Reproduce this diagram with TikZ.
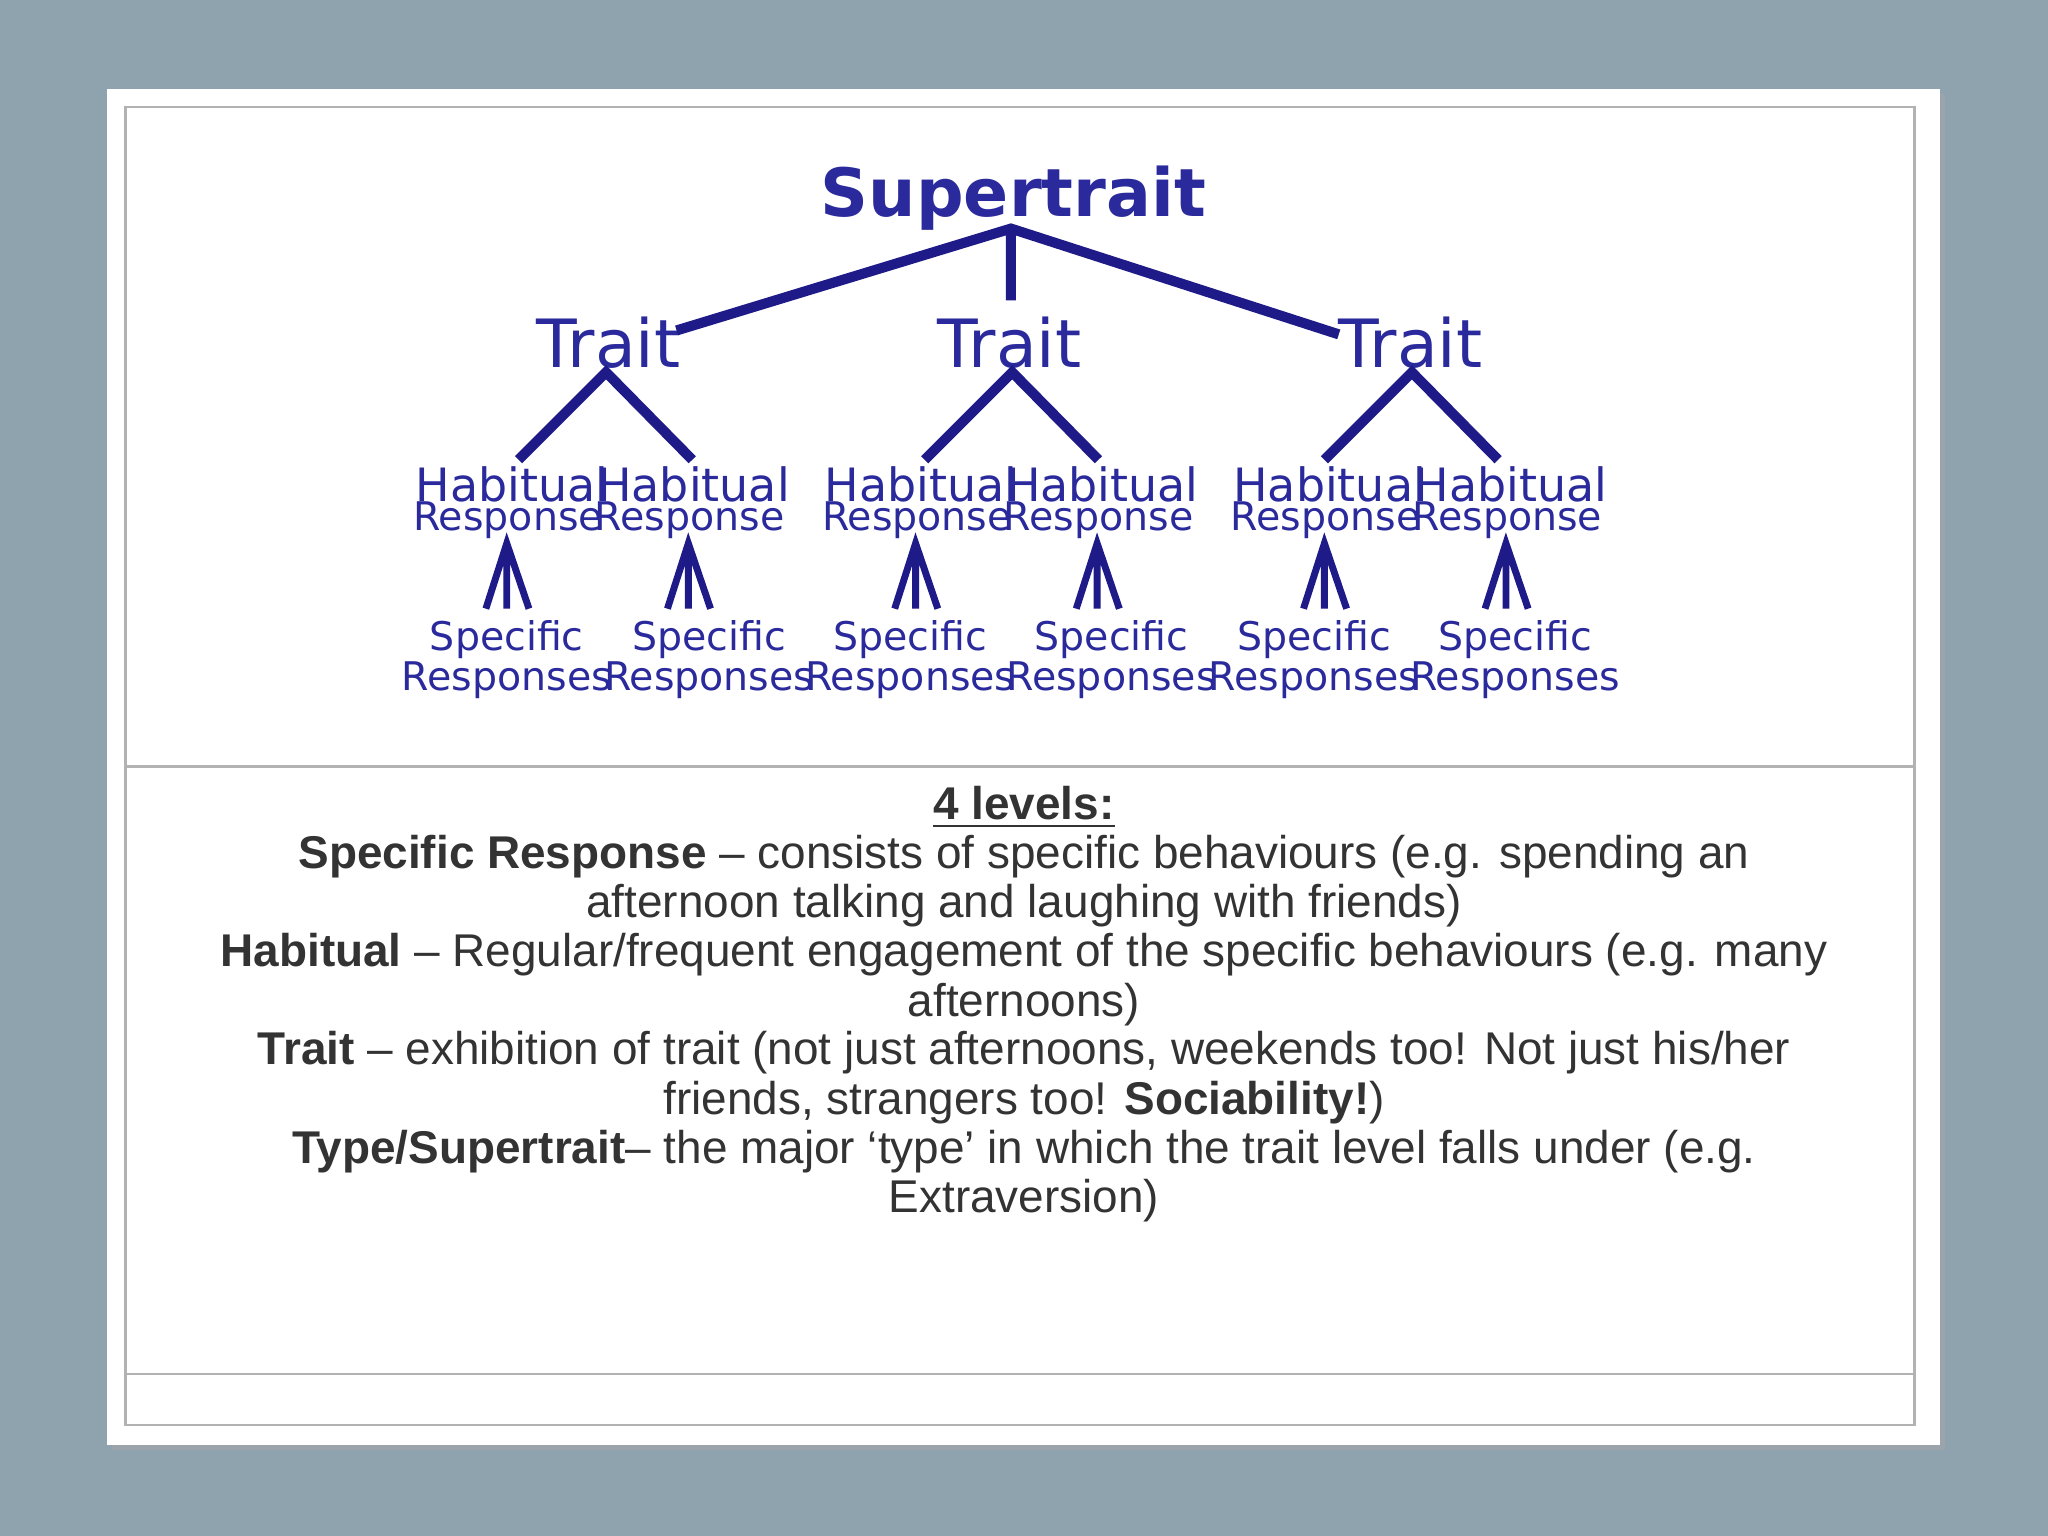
\documentclass[tikz,border=0pt]{standalone}
\usepackage{fontspec}
\setmainfont{Liberation Sans}
\newfontfamily\djvfont{DejaVu Sans}
\begin{document}
\begin{tikzpicture}[x=0.1mm,y=-0.1mm,
  ln/.style={draw=lineblue,line width=2.2pt},
  fan/.style={draw=lineblue,line width=1.5pt},
  tt/.style={text=txtblue,font=\djvfont\fontsize{14.5}{16}\selectfont,inner sep=0pt},
  hab/.style={text=txtblue,font=\djvfont\fontsize{10}{11}\selectfont,inner sep=0pt},
  rsp/.style={text=txtblue,font=\djvfont\fontsize{8.6}{10}\selectfont,inner sep=0pt},
  body/.style={text=bodytxt,font=\fontsize{10}{12}\selectfont,inner sep=0pt}]
\definecolor{lineblue}{HTML}{1E1A88}
\definecolor{txtblue}{HTML}{2A2A9C}
\definecolor{bodytxt}{HTML}{333333}
\definecolor{bg}{HTML}{8FA3AF}
\useasboundingbox (0,0) rectangle (1568,1176);
\fill[bg] (0,0) rectangle (1568,1176);
\fill[black!35,opacity=0.5] (86,72) rectangle (1489,1110);
\fill[white] (82,68) rectangle (1485,1106);
\draw[black!30,line width=0.6pt] (96,82) rectangle (1466,1091);
\draw[black!30,line width=0.6pt] (96,587) -- (1466,587) (96,1052) -- (1466,1052);
% tree
\node[tt,font=\djvfont\bfseries\fontsize{14.5}{16}\selectfont] (sup) at (776,152) {Supertrait};
\coordinate (sa) at (774,175);
\node[tt] (t1) at (466,262) {Trait};
\node[tt] (t2) at (773,262) {Trait};
\node[tt] (t3) at (1080,262) {Trait};
\coordinate (e1) at (518,253);
\coordinate (e2) at (774,230);
\coordinate (e3) at (1025,256);
\draw[ln] (e1) -- (sa) -- (e3) (sa) -- (e2);
\foreach \i/\x in {1/464,2/775,3/1081}{
  \coordinate (ap\i) at (\x,285);
  \coordinate (l\i) at (\x-67,352);
  \coordinate (r\i) at (\x+66,352);
  \draw[ln] (l\i) -- (ap\i) -- (r\i);
}
\foreach \j/\hx/\sx in {1/392/388,2/531/543,3/705/697,4/844/851,5/1018/1006,6/1157/1160}{
  \node[hab] (h\j) at (\hx,371) {Habitual};
  \node[rsp] (hr\j) at (\hx-3,398) {Response};
  \coordinate (fa\j) at (\hx-4,416);
  \coordinate (fl\j) at (\hx-20,466);
  \coordinate (fm\j) at (\hx-4,466);
  \coordinate (fr\j) at (\hx+13,466);
  \draw[fan] (fl\j) -- (fa\j) -- (fr\j) (fa\j) -- (fm\j);
  \node[rsp] (s\j) at (\sx,490) {Specific};
  \node[rsp] (sr\j) at (\sx,521) {Responses};
}
% text
\node[body] (a0) at (784,618) {\underline{\textbf{4 levels:}}};
\node[body] (a1) at (784,656) {\textbf{Specific Response} -- consists of specific behaviours (e.g. spending an};
\node[body] (a2) at (784,693) {afternoon talking and laughing with friends)};
\node[body] (a3) at (784,731) {\textbf{Habitual} -- Regular/frequent engagement of the specific behaviours (e.g. many};
\node[body] (a4) at (784,769) {afternoons)};
\node[body] (a5) at (784,806) {\textbf{Trait} -- exhibition of trait (not just afternoons, weekends too! Not just his/her};
\node[body] (a6) at (784,844) {friends, strangers too! \textbf{Sociability!})};
\node[body] (a7) at (784,882) {\textbf{Type/Supertrait}-- the major `type' in which the trait level falls under (e.g.};
\node[body] (a8) at (784,919) {Extraversion)};
\end{tikzpicture}
\end{document}
